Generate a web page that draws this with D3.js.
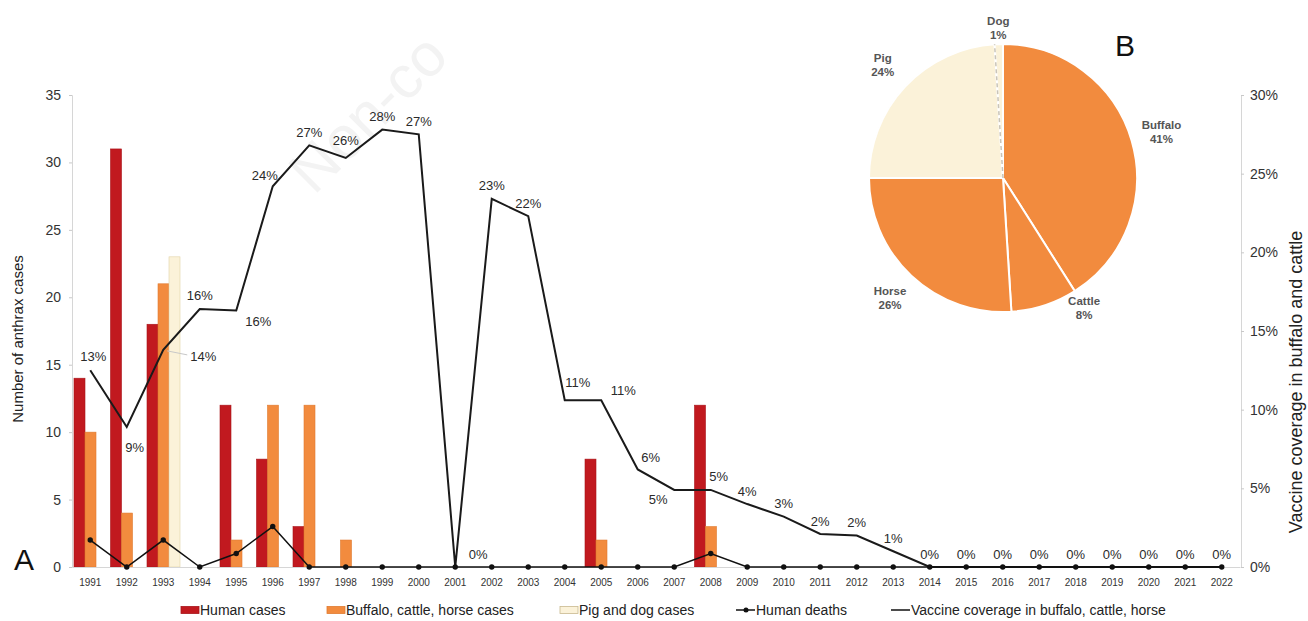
<!DOCTYPE html>
<html>
<head>
<meta charset="utf-8">
<script src="https://cdn.jsdelivr.net/npm/d3@7"></script>
<style>
  body { margin: 0; background: #fff; }
  svg { display: block; font-family: "Liberation Sans", Arial, sans-serif; }
</style>
</head>
<body>
<script>
// Panel A data
var years = [1991, 1992, 1993, 1994, 1995, 1996, 1997, 1998, 1999, 2000, 2001, 2002, 2003, 2004, 2005, 2006,
             2007, 2008, 2009, 2010, 2011, 2012, 2013, 2014, 2015, 2016, 2017, 2018, 2019, 2020, 2021, 2022];
var humanCases  = [14, 31, 18, 0, 12, 8, 3, 0, 0, 0, 0, 0, 0, 0, 8, 0, 0, 12, 0, 0, 0, 0, 0, 0, 0, 0, 0, 0, 0, 0, 0, 0];
var animalCases = [10, 4, 21, 0, 2, 12, 12, 2, 0, 0, 0, 0, 0, 0, 2, 0, 0, 3, 0, 0, 0, 0, 0, 0, 0, 0, 0, 0, 0, 0, 0, 0];
var pigDogCases = [0, 0, 23, 0, 0, 0, 0, 0, 0, 0, 0, 0, 0, 0, 0, 0, 0, 0, 0, 0, 0, 0, 0, 0, 0, 0, 0, 0, 0, 0, 0, 0];
var humanDeaths = [2, 0, 2, 0, 1, 3, 0, 0, 0, 0, 0, 0, 0, 0, 0, 0, 0, 1, 0, 0, 0, 0, 0, 0, 0, 0, 0, 0, 0, 0, 0, 0];
var vaccineCoverage = [12.5, 8.9, 13.8, 16.4, 16.3, 24.2, 26.8, 26.0, 27.8, 27.5, 0, 23.4, 22.3, 10.6, 10.6, 6.2,
                       4.9, 4.9, 4.0, 3.2, 2.1, 2.0, 1.0, 0, 0, 0, 0, 0, 0, 0, 0, 0];
var vaccineLabels = ["13%", "9%", "14%", "16%", "16%", "24%", "27%", "26%", "28%", "27%", "0%", "23%", "22%", "11%",
                     "11%", "6%", "5%", "5%", "4%", "3%", "2%", "2%", "1%", "0%", "0%", "0%", "0%", "0%", "0%", "0%", "0%", "0%"];
var leftTicks = [0, 5, 10, 15, 20, 25, 30, 35];
var rightTicks = [0, 5, 10, 15, 20, 25, 30];

// Panel B data
var pieNames = ["Buffalo", "Cattle", "Horse", "Pig", "Dog"];
var pieValues = [41, 8, 26, 24, 1];

var red = "#c1191f", orange = "#f28b3e", cream = "#fbf2d9";

var svg = d3.select("body").append("svg")
    .attr("width", 1308)
    .attr("height", 621);

// faint watermark behind the chart (only its start shows in the original)
svg.append("text")
    .attr("transform", "translate(314,196) rotate(-45)")
    .style("font-size", "60px")
    .attr("fill", "#f3f3f3")
    .text("Non-co");

var x = d3.scaleBand().domain(years).range([72, 1240]);
var xSub = d3.scaleBand().domain(["human", "animal", "pigdog"]).range([2, x.bandwidth() - 1.5]);
var y = d3.scaleLinear().domain([0, 35]).range([567, 95]);
var yR = d3.scaleLinear().domain([0, 30]).range([567, 95]);
var cx = function(yr) { return x(yr) + x.bandwidth() / 2; };

var barColor = {human: red, animal: orange, pigdog: cream};
var barStroke = {human: "#a8141a", animal: "#e07a30", pigdog: "#e2d2a6"};

var barData = [];
years.forEach(function(yr, i) {
  [["human", humanCases[i]], ["animal", animalCases[i]], ["pigdog", pigDogCases[i]]].forEach(function(p) {
    if (p[1] > 0) barData.push({year: yr, key: p[0], v: p[1]});
  });
});

svg.selectAll(".bar")
    .data(barData)
  .enter().append("rect")
    .attr("class", "bar")
    .attr("x", function(d) { return x(d.year) + xSub(d.key); })
    .attr("width", xSub.bandwidth())
    .attr("y", function(d) { return y(d.v); })
    .attr("height", function(d) { return y(0) - y(d.v); })
    .attr("fill", function(d) { return barColor[d.key]; })
    .attr("stroke", function(d) { return barStroke[d.key]; })
    .attr("stroke-width", 0.6);

// axes
var gL = svg.append("g")
    .attr("transform", "translate(72,0)")
    .call(d3.axisLeft(y).tickValues(leftTicks).tickSize(3).tickPadding(8));
var gR = svg.append("g")
    .attr("transform", "translate(1241,0)")
    .call(d3.axisRight(yR).tickValues(rightTicks).tickSize(3).tickPadding(6)
      .tickFormat(function(d) { return d + "%"; }));
var gX = svg.append("g")
    .attr("transform", "translate(0,567)")
    .call(d3.axisBottom(x).tickSize(0).tickPadding(12));

[gL, gR, gX].forEach(function(g) {
  g.select(".domain").attr("stroke", "#d6d6d6");
  g.selectAll(".tick line").attr("stroke", "#c8c8c8");
  g.selectAll("text").attr("fill", "#333").style("font-family", "Liberation Sans, Arial, sans-serif");
});
gL.selectAll("text").style("font-size", "14px");
gR.selectAll("text").style("font-size", "14px");
gX.selectAll("text").style("font-size", "10px");

// vaccine coverage line
var vacData = years.map(function(yr, i) { return {year: yr, v: vaccineCoverage[i], label: vaccineLabels[i]}; });
svg.append("path")
    .datum(vacData)
    .attr("fill", "none")
    .attr("stroke", "#1a1a1a")
    .attr("stroke-width", 2)
    .attr("d", d3.line().x(function(d) { return cx(d.year); }).y(function(d) { return yR(d.v); }));

// human deaths line with markers
var deathData = years.map(function(yr, i) { return {year: yr, v: humanDeaths[i]}; });
svg.append("path")
    .datum(deathData)
    .attr("fill", "none")
    .attr("stroke", "#111")
    .attr("stroke-width", 1.5)
    .attr("d", d3.line().x(function(d) { return cx(d.year); }).y(function(d) { return y(d.v); }));
svg.selectAll(".death")
    .data(deathData)
  .enter().append("circle")
    .attr("class", "death")
    .attr("cx", function(d) { return cx(d.year); })
    .attr("cy", function(d) { return y(d.v); })
    .attr("r", 2.7)
    .attr("fill", "#111");

// data labels on the coverage line, nudged like the original
var nudge = {
  1991: [3, -14], 1992: [8, 21], 1993: [40, 7], 1995: [22, 11], 1996: [-8, -11], 1998: [0, -17],
  2001: [23, -13], 2004: [13, -18], 2005: [22, -10], 2006: [13, -12], 2007: [-16, 10], 2008: [8, -13],
  2011: [0, -12]
};
var off = function(d) { return nudge[d.year] || [0, -13]; };

// leader line for 1993
svg.append("line")
    .attr("x1", cx(1993) + 4).attr("y1", yR(vaccineCoverage[2]) + 1)
    .attr("x2", cx(1993) + 24).attr("y2", yR(vaccineCoverage[2]) + 5)
    .attr("stroke", "#c8c8c8");

svg.selectAll(".vlab")
    .data(vacData)
  .enter().append("text")
    .attr("class", "vlab")
    .attr("x", function(d) { return cx(d.year) + off(d)[0]; })
    .attr("y", function(d) { return yR(d.v) + off(d)[1]; })
    .attr("text-anchor", "middle")
    .attr("dominant-baseline", "central")
    .attr("fill", "#2a2a2a")
    .style("font-size", "13px")
    .text(function(d) { return d.label; });

// axis titles
svg.append("text")
    .attr("transform", "translate(23,339) rotate(-90)")
    .attr("text-anchor", "middle")
    .attr("fill", "#222")
    .style("font-size", "15px")
    .text("Number of anthrax cases");
svg.append("text")
    .attr("transform", "translate(1302,382) rotate(-90)")
    .attr("text-anchor", "middle")
    .attr("fill", "#222")
    .style("font-size", "18px")
    .text("Vaccine coverage in buffalo and cattle");

// panel letters
svg.append("text").attr("x", 24).attr("y", 570).attr("text-anchor", "middle")
    .attr("fill", "#111").style("font-size", "30px").text("A");
svg.append("text").attr("x", 1125).attr("y", 56).attr("text-anchor", "middle")
    .attr("fill", "#111").style("font-size", "30px").text("B");

// Panel B pie
var pieCx = 1003, pieCy = 178, pieR = 134;
var pieColor = {Buffalo: orange, Cattle: orange, Horse: orange, Pig: cream, Dog: cream};
var arcs = d3.pie().sort(null).value(function(d) { return d.v; })(
  pieNames.map(function(n, i) { return {name: n, v: pieValues[i]}; })
);
var pieG = svg.append("g").attr("transform", "translate(" + pieCx + "," + pieCy + ")");
var arc = d3.arc().innerRadius(0).outerRadius(pieR);

pieG.selectAll(".slice")
    .data(arcs)
  .enter().append("path")
    .attr("class", "slice")
    .attr("d", arc)
    .attr("fill", function(d) { return pieColor[d.data.name]; })
    .attr("stroke", "#fff")
    .attr("stroke-width", 2);

// dashed pig / dog boundary
var pd = arcs[3].endAngle;
pieG.append("line")
    .attr("x1", 0).attr("y1", 0)
    .attr("x2", Math.sin(pd) * pieR).attr("y2", -Math.cos(pd) * pieR)
    .attr("stroke", "#c9c4b8")
    .attr("stroke-width", 1.5)
    .attr("stroke-dasharray", "4,3");

var labelR = {Cattle: 153, Dog: 150};
var labelA = {Cattle: 148 * Math.PI / 180};
var pieLab = pieG.selectAll(".plab")
    .data(arcs)
  .enter().append("g")
    .attr("class", "plab")
    .attr("transform", function(d) {
      var a = labelA[d.data.name] || (d.startAngle + d.endAngle) / 2;
      var r = labelR[d.data.name] || 165;
      return "translate(" + (Math.sin(a) * r) + "," + (-Math.cos(a) * r) + ")";
    });
pieLab.append("text")
    .attr("y", -7)
    .text(function(d) { return d.data.name; });
pieLab.append("text")
    .attr("y", 7)
    .text(function(d) { return d.data.v + "%"; });
pieLab.selectAll("text")
    .attr("text-anchor", "middle")
    .attr("dominant-baseline", "central")
    .attr("fill", "#555")
    .style("font-size", "11.5px")
    .style("font-weight", "bold");

// legend
var legY = 610;
var legend = [
  {type: "rect", color: red, stroke: "#a8141a", x: 181, label: "Human cases"},
  {type: "rect", color: orange, stroke: "#e07a30", x: 327, label: "Buffalo, cattle, horse cases"},
  {type: "rect", color: cream, stroke: "#c9b98e", x: 560, label: "Pig and dog cases"},
  {type: "dot", x: 736, label: "Human deaths"},
  {type: "line", x: 891, label: "Vaccine coverage in buffalo, cattle, horse"}
];
var lg = svg.selectAll(".leg")
    .data(legend)
  .enter().append("g")
    .attr("class", "leg")
    .attr("transform", function(d) { return "translate(" + d.x + "," + legY + ")"; });
lg.filter(function(d) { return d.type === "rect"; }).append("rect")
    .attr("x", 0).attr("y", -3.5).attr("width", 18).attr("height", 7)
    .attr("fill", function(d) { return d.color; })
    .attr("stroke", function(d) { return d.stroke; })
    .attr("stroke-width", 0.8);
lg.filter(function(d) { return d.type !== "rect"; }).append("line")
    .attr("x1", 0).attr("x2", 19).attr("y1", 0).attr("y2", 0)
    .attr("stroke", "#111").attr("stroke-width", 1.5);
lg.filter(function(d) { return d.type === "dot"; }).append("circle")
    .attr("cx", 10).attr("cy", 0).attr("r", 2.5).attr("fill", "#111");
lg.append("text")
    .attr("x", function(d) { return d.type === "rect" ? 19 : 20; })
    .attr("dominant-baseline", "central")
    .attr("fill", "#222")
    .style("font-size", "14px")
    .text(function(d) { return d.label; });
</script>
</body>
</html>
